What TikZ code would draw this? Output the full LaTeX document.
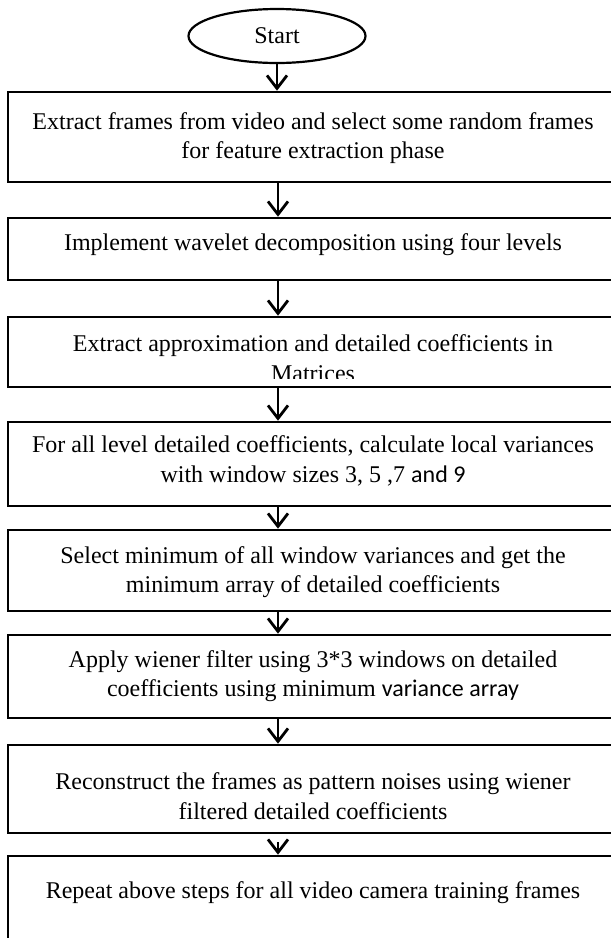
\documentclass[tikz,border=0pt]{standalone}
\usepackage{fontspec}
\setmainfont{Liberation Serif}
\newfontfamily\calfont{Carlito}
\usetikzlibrary{arrows.meta,shapes.geometric}
\begin{document}
\begin{tikzpicture}[x=1pt,y=-1pt,
  box/.style={draw=black, line width=2.6pt, minimum width=612pt, inner sep=0pt, rectangle},
  txt/.style={align=center, inner sep=0pt, font=\fontsize{24}{29.5}\selectfont},
  arr/.style={line width=2.8pt, -{Straight Barb[length=13pt,width=20pt,line width=2.8pt]}},
]
\useasboundingbox (0,0) rectangle (611,938);
\clip (0,0) rectangle (611,938);
\coordinate (ax) at (278,0);
\node[ellipse, draw, line width=2.2pt, minimum width=177pt, minimum height=54pt, inner sep=0pt,
  font=\fontsize{24}{28}\selectfont] (st) at (277,36) {Start};
\node[box, minimum height=90pt] (b1) at (314,137) {};
\node[box, minimum height=62pt] (b2) at (314,249) {};
\node[box, minimum height=70pt] (b3) at (314,352) {};
\node[box, minimum height=84pt] (b4) at (314,464) {};
\node[box, minimum height=81pt] (b5) at (314,570.5) {};
\node[box, minimum height=83pt] (b6) at (314,676.5) {};
\node[box, minimum height=88pt] (b7) at (314,789) {};
\node[box, minimum height=144pt] (b8) at (314,928) {};

\node[txt] (t1) at (313,138) {Extract frames from video and select some random frames\\for feature extraction phase};
\node[txt] (t2) at (313,245) {Implement wavelet decomposition using four levels};
\begin{scope}
\clip (0,0) rectangle (611,378);
\node[txt] (t3) at (313,358) {Extract approximation and detailed coefficients in\\Matrices};
\end{scope}
\node[txt] (t4) at (313,461) {For all level detailed coefficients, calculate local variances\\with window sizes 3, 5 ,7 {\calfont and 9}};
\node[txt] (t5) at (313,572) {Select minimum of all window variances and get the\\minimum array of detailed coefficients};
\node[txt] (t6) at (313,676) {Apply wiener filter using 3*3 windows on detailed\\coefficients using minimum {\calfont variance array}};
\node[txt] (t7) at (313,796) {Reconstruct the frames as pattern noises using wiener\\filtered detailed coefficients};
\node[txt] (t8) at (313,893) {Repeat above steps for all video camera training frames};

\draw[arr] (st.south) -- (b1.north -| st.south);
\draw[arr] (b1.south -| ax) -- (b2.north -| ax);
\draw[arr] (b2.south -| ax) -- (b3.north -| ax);
\draw[arr] (b3.south -| ax) -- (b4.north -| ax);
\draw[arr] (b4.south -| ax) -- (b5.north -| ax);
\draw[arr] (b5.south -| ax) -- (b6.north -| ax);
\draw[arr] (b6.south -| ax) -- (b7.north -| ax);
\draw[arr] ([yshift=-8pt]b7.south -| ax) -- (b8.north -| ax);
\end{tikzpicture}
\end{document}
